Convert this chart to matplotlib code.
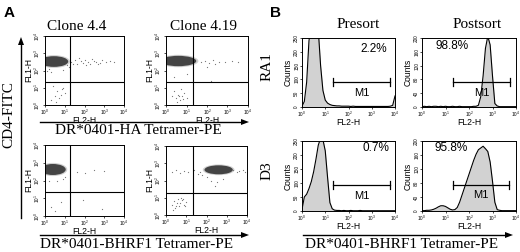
import matplotlib.pyplot as plt
from matplotlib.patches import Ellipse
import numpy as np

plt.rcParams['font.family'] = ['Liberation Sans', 'DejaVu Sans']
SERIF = 'Liberation Serif'

# ---------------- data (log10 fluorescence units) ----------------
# panel A: dot plots, FL2-H (tetramer) vs FL1-H (CD4)
clones = ['Clone 4.4', 'Clone 4.19']
quad_x = [1.25, 1.30, 1.27, 1.32]
quad_y = [1.35, 1.35, 1.38, 1.30]
# dense population: centre x, centre y, width, height
blob_cx = [0.45, 0.60, 0.40, 2.60]
blob_cy = [2.52, 2.55, 2.62, 2.62]
blob_w = [1.45, 1.75, 1.30, 1.40]
blob_h = [0.62, 0.60, 0.62, 0.52]

ha44_x = [1.3, 1.5, 1.6, 1.8, 1.9, 2.0, 2.2, 2.3, 2.5, 2.6, 2.8, 2.9, 3.1, 3.3, 3.5, 1.4, 1.7, 2.1, 2.4, 2.7,
          0.3, 0.5, 0.6, 0.8, 0.9, 0.4, 0.7, 1.0, 0.55, 0.85, 0.1, 0.2, 1.1, 1.2, 0.9, 0.3]
ha44_y = [2.5, 2.6, 2.4, 2.55, 2.45, 2.6, 2.5, 2.4, 2.55, 2.5, 2.45, 2.6, 2.5, 2.55, 2.5, 2.35, 2.7, 2.3, 2.65, 2.4,
          0.3, 0.5, 0.8, 0.6, 1.0, 1.1, 0.4, 0.7, 0.2, 0.9, 2.0, 2.1, 2.3, 2.2, 2.05, 1.9]
ha419_x = [1.7, 1.9, 2.1, 2.3, 2.6, 2.9, 3.2, 3.5, 2.0, 2.4,
           0.3, 0.5, 0.6, 0.7, 0.8, 0.9, 1.0, 0.4, 0.55, 0.75, 0.65, 0.85, 0.4, 1.0, 2.2]
ha419_y = [2.5, 2.55, 2.45, 2.6, 2.5, 2.5, 2.55, 2.5, 2.2, 2.35,
           0.5, 0.4, 0.6, 0.3, 0.5, 0.7, 0.4, 0.8, 0.2, 0.9, 0.55, 0.35, 1.6, 1.8, 1.4]
bh44_x = [1.6, 2.0, 2.5, 3.0, 1.9, 0.3, 0.5, 0.8, 2.9, 0.2, 0.6, 0.9, 1.0]
bh44_y = [2.5, 2.45, 2.6, 2.55, 0.9, 0.5, 0.3, 0.8, 0.4, 2.0, 1.95, 2.1, 2.2]
bh419_x = [0.3, 0.5, 0.7, 0.9, 1.1, 1.4, 1.6, 1.7, 1.8, 3.3, 3.5, 3.6, 3.8, 3.9,
           0.3, 0.4, 0.5, 0.6, 0.7, 0.8, 0.9, 1.0, 0.45, 0.65, 0.85, 0.35, 0.75, 0.55, 0.95,
           2.2, 2.5, 2.8, 2.0, 2.4]
bh419_y = [2.5, 2.6, 2.45, 2.55, 2.5, 2.6, 2.4, 2.5, 2.3, 2.6, 2.5, 2.55, 2.6, 2.5,
           0.6, 0.8, 0.5, 0.9, 0.7, 0.85, 0.6, 0.75, 0.4, 0.55, 0.95, 0.3, 1.0, 0.7, 0.5,
           2.0, 1.9, 2.1, 2.2, 1.7]

# panel B: FL2-H histograms, counts at 0.1-decade steps from 10^0 to 10^4
fl2 = np.round(np.arange(0, 4.01, 0.1), 1)
ra1_pre = [3, 20, 90, 240, 300, 300, 300, 280, 150, 60, 25, 14, 9, 6, 5, 4, 4, 3, 3, 3, 3,
           2, 3, 2, 2, 2, 2, 2, 2, 2, 2, 2, 2, 2, 2, 2, 2, 2, 3, 6, 40]
ra1_post = [1, 2, 1, 2, 1, 2, 2, 1, 2, 1, 2, 1, 1, 2, 1, 1, 2, 1, 1, 1, 1, 1, 2,
            2, 5, 30, 90, 170, 205, 180, 90, 10, 3, 1, 1, 1, 1, 1, 1, 1, 1]
d3_pre = [5, 50, 60, 80, 105, 140, 185, 235, 260, 255, 215, 120, 30, 8, 3,
          2, 2, 1, 2, 1, 1, 2, 1, 1, 1, 2, 1, 1, 1, 1, 1, 1, 1, 1, 1, 1, 1, 1, 1, 1, 1]
d3_post = [1, 1, 2, 2, 3, 5, 8, 12, 15, 15, 13, 9, 5, 3, 4, 10, 25, 45, 65, 85, 105,
           125, 145, 162, 175, 180, 185, 178, 170, 140, 85, 25, 4, 2, 1, 1, 1, 1, 1, 1, 1]
hist_ymax = [250, 200, 250, 200]
m1_start = [1.33, 1.31, 1.33, 1.31]
m1_end = [3.78, 3.74, 3.78, 3.70]
m1_level = [90, 72, 92, 75]
pct_labels = ['2.2%', '98.8%', '0.7%', '95.8%']
pct_x = [3.09, 1.27, 3.20, 1.24]
pct_frac = [0.84, 0.88, 0.90, 0.90]

W, H = 520, 252
fig = plt.figure(figsize=(W / 100, H / 100), dpi=100)
fig.patch.set_facecolor('white')


def box(x0, y0, x1, y1):
    return [x0 / W, 1 - y1 / H, (x1 - x0) / W, (y1 - y0) / H]


# overlay for arrows and big labels (pixel coordinates)
ov = fig.add_axes([0, 0, 1, 1])
ov.set_xlim(0, W)
ov.set_ylim(H, 0)
ov.axis('off')


def harrow(x0, x1, y):
    ov.plot([x0, x1 - 6], [y, y], color='black', lw=1.0)
    ov.fill([x1 - 8, x1, x1 - 8], [y - 3, y, y + 3], color='black', lw=0)


harrow(40, 249, 122)
harrow(40, 249, 235)
harrow(303, 513, 235)
ov.plot([21, 21], [218, 44], color='black', lw=1.0)
ov.fill([18, 21, 24], [45, 37, 45], color='black', lw=0)

ov.text(4, 13, 'A', fontsize=11, fontweight='bold', ha='left', va='center')
ov.text(270, 13, 'B', fontsize=11, fontweight='bold', ha='left', va='center')
ov.text(77, 26, clones[0], family=SERIF, fontsize=11, ha='center', va='center')
ov.text(204, 26, clones[1], family=SERIF, fontsize=11, ha='center', va='center')
ov.text(358, 25, 'Presort', family=SERIF, fontsize=11, ha='center', va='center')
ov.text(477, 25, 'Postsort', family=SERIF, fontsize=11, ha='center', va='center')
ov.text(9, 115, 'CD4-FITC', family=SERIF, fontsize=11, rotation=90, ha='center', va='center')
ov.text(138, 131, 'DR*0401-HA Tetramer-PE', family=SERIF, fontsize=11, ha='center', va='center')
ov.text(137, 244, 'DR*0401-BHRF1 Tetramer-PE', family=SERIF, fontsize=11, ha='center', va='center')
ov.text(402, 244, 'DR*0401-BHRF1 Tetramer-PE', family=SERIF, fontsize=11, ha='center', va='center')
ov.text(267, 67, 'RA1', family=SERIF, fontsize=11, rotation=90, ha='center', va='center')
ov.text(267, 171, 'D3', family=SERIF, fontsize=11, rotation=90, ha='center', va='center')

decade_labels = [r'$\mathregular{10^{%d}}$' % k for k in range(5)]


def style(ax):
    ax.set_xlim(0, 4)
    ax.set_xticks(range(5))
    ax.set_xticklabels(decade_labels)
    ax.tick_params(labelsize=3.4, length=1.5, width=0.5, pad=0.5)
    for s in ax.spines.values():
        s.set_linewidth(0.7)
    ax.set_xlabel('FL2-H', fontsize=6.2, labelpad=-0.5)


# ---------------- panel A ----------------
dot_boxes = [box(45, 36, 124, 105), box(166, 36, 248, 105),
             box(45, 145, 124, 216), box(166, 146, 247, 215)]
dots = [(ha44_x, ha44_y), (ha419_x, ha419_y), (bh44_x, bh44_y), (bh419_x, bh419_y)]
for i, (bx, (xs, ys)) in enumerate(zip(dot_boxes, dots)):
    ax = fig.add_axes(bx)
    style(ax)
    ax.set_ylim(0, 4)
    ax.set_yticks(range(5))
    ax.set_yticklabels(decade_labels, rotation=90, va='center')
    ax.set_ylabel('FL1-H', fontsize=6.2, labelpad=0)
    ax.add_patch(Ellipse((blob_cx[i], blob_cy[i]), blob_w[i] * 1.12, blob_h[i] * 1.2,
                         color='#9a9a9a', lw=0, alpha=0.45))
    ax.add_patch(Ellipse((blob_cx[i], blob_cy[i]), blob_w[i], blob_h[i],
                         color='#444444', lw=0))
    ax.scatter(xs, ys, s=0.8, color='#777777', lw=0)
    ax.axvline(quad_x[i], color='black', lw=0.8)
    ax.axhline(quad_y[i], color='black', lw=0.8)

# ---------------- panel B ----------------
hist_boxes = [box(302, 38, 395, 107), box(422, 38, 516, 107),
              box(302, 141, 395, 211), box(422, 141, 516, 211)]
hists = [ra1_pre, ra1_post, d3_pre, d3_post]
for i, (bx, counts) in enumerate(zip(hist_boxes, hists)):
    ax = fig.add_axes(bx)
    style(ax)
    ymax = hist_ymax[i]
    ax.set_ylim(0, ymax)
    step = 50 if ymax == 250 else 40
    ax.set_yticks(range(0, ymax + 1, step))
    ax.set_yticklabels([str(v) for v in range(0, ymax + 1, step)], rotation=90, va='center')
    ax.set_ylabel('Counts', fontsize=6.2, labelpad=1)
    ax.fill_between(fl2, counts, color='#d2d2d2', lw=0)
    ax.plot(fl2, counts, color='black', lw=0.8)
    cap = ymax * 0.06
    ax.plot([m1_start[i], m1_end[i]], [m1_level[i], m1_level[i]], color='black', lw=0.9)
    ax.plot([m1_start[i]] * 2, [m1_level[i] - cap, m1_level[i] + cap], color='black', lw=0.9)
    ax.plot([m1_end[i]] * 2, [m1_level[i] - cap, m1_level[i] + cap], color='black', lw=0.9)
    mx = (m1_start[i] + m1_end[i]) / 2
    ax.text(mx, m1_level[i] - cap * 1.3, 'M1', fontsize=8, ha='center', va='top')
    ax.text(pct_x[i], ymax * pct_frac[i], pct_labels[i], fontsize=8.5, ha='center', va='center')

fig.savefig('out.png', dpi=100, facecolor='white')
